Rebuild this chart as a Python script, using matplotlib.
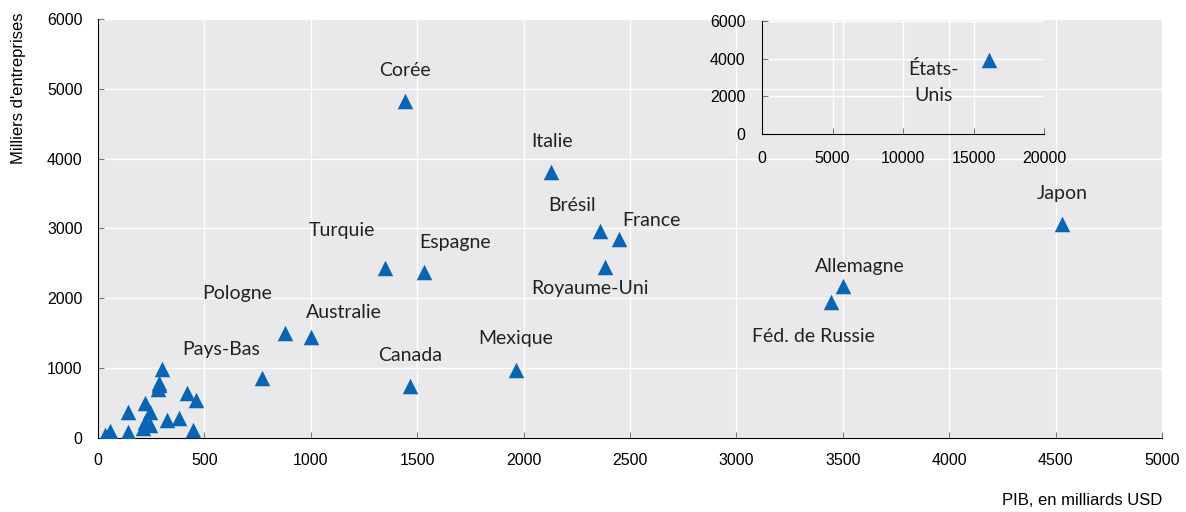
import matplotlib
matplotlib.use('Agg')
import matplotlib.pyplot as plt

# Pays nommés : PIB (milliards USD), milliers d'entreprises
pays = ['Corée', 'Italie', 'Brésil', 'France', 'Royaume-Uni', 'Turquie', 'Espagne',
        'Japon', 'Allemagne', 'Féd. de Russie', 'Pologne', 'Australie', 'Mexique',
        'Pays-Bas', 'Canada']
pib = [1443, 2129, 2359, 2448, 2383, 1349, 1532, 4530, 3501, 3445, 879, 1001, 1964, 771, 1466]
entreprises = [4828, 3811, 2966, 2851, 2450, 2435, 2378, 3066, 2178, 1948, 1504, 1447, 974, 860, 745]

# Petits pays non étiquetés
pib_autres = [303, 287, 287, 283, 417, 460, 142, 221, 244, 221, 244, 210, 326, 382, 448, 142, 56, 33, 53]
entr_autres = [984, 759, 788, 698, 640, 544, 377, 497, 377, 234, 186, 139, 258, 282, 115, 90, 105, 43, 19]

# Encadré : États-Unis
pib_us = [16120]
entr_us = [3930]

# décalage des étiquettes (pixels)
decalages = [(0, 30), (1, 30), (-28, 25), (33, 18), (-15, -22), (-43, 37), (31, 29),
             (0, 30), (17, 19), (-18, -35), (-48, 39), (33, 24), (0, 31), (-41, 28), (0, 30)]

bleu = '#0a64b4'
fond = '#e9e9ec'
plt.rcParams['font.family'] = ['Liberation Sans', 'DejaVu Sans']

fig = plt.figure(figsize=(11.86, 5.12), dpi=100)
ax = fig.add_axes([0.0826, 0.1445, 0.8972, 0.8185])
ax.set_facecolor(fond)
ax.scatter(pib_autres, entr_autres, marker='^', s=125, color=bleu, zorder=3, linewidths=0)
ax.scatter(pib, entreprises, marker='^', s=125, color=bleu, zorder=3, linewidths=0)
for nom, x, y, d in zip(pays, pib, entreprises, decalages):
    ax.annotate(nom, (x, y), xytext=d, textcoords='offset pixels', ha='center', va='center',
                fontsize=14, family='Lato', color='#222222')

ax.set_xlim(0, 5000)
ax.set_ylim(0, 6000)
ax.set_xticks(range(0, 5001, 500))
ax.set_yticks(range(0, 6001, 1000))
ax.grid(color='white', linewidth=1)
ax.set_axisbelow(True)
for s in ['top', 'right']:
    ax.spines[s].set_visible(False)
ax.tick_params(direction='in', length=4, color='#777777', labelsize=11.5, pad=11)
ax.set_ylabel("Milliers d'entreprises", fontsize=12)
ax.set_xlabel('PIB, en milliards USD', fontsize=12)
ax.xaxis.set_label_coords(1.0, -0.148)
ax.xaxis.label.set_horizontalalignment('right')
ax.xaxis.label.set_verticalalignment('center')
ax.yaxis.set_label_coords(-0.075, 0.835)
ax.yaxis.label.set_verticalalignment('center')

# encadré
axi = fig.add_axes([0.6425, 0.7383, 0.2378, 0.2207])
axi.patch.set_alpha(0)
axi.scatter(pib_us, entr_us, marker='^', s=125, color=bleu, zorder=3, linewidths=0)
axi.annotate('États-\nUnis', (pib_us[0], entr_us[0]), xytext=(-56, -22), textcoords='offset pixels',
             ha='center', va='center', fontsize=14, family='Lato', color='#222222', linespacing=1.6)
axi.set_xlim(0, 20000)
axi.set_ylim(0, 6000)
axi.set_xticks(range(0, 20001, 5000))
axi.set_yticks(range(0, 6001, 2000))
axi.grid(color='white', linewidth=1)
axi.set_axisbelow(True)
for s in ['top', 'right']:
    axi.spines[s].set_visible(False)
axi.tick_params(direction='in', length=4, color='#777777', labelsize=11.5, pad=12)

fig.savefig('out.png', dpi=100)
